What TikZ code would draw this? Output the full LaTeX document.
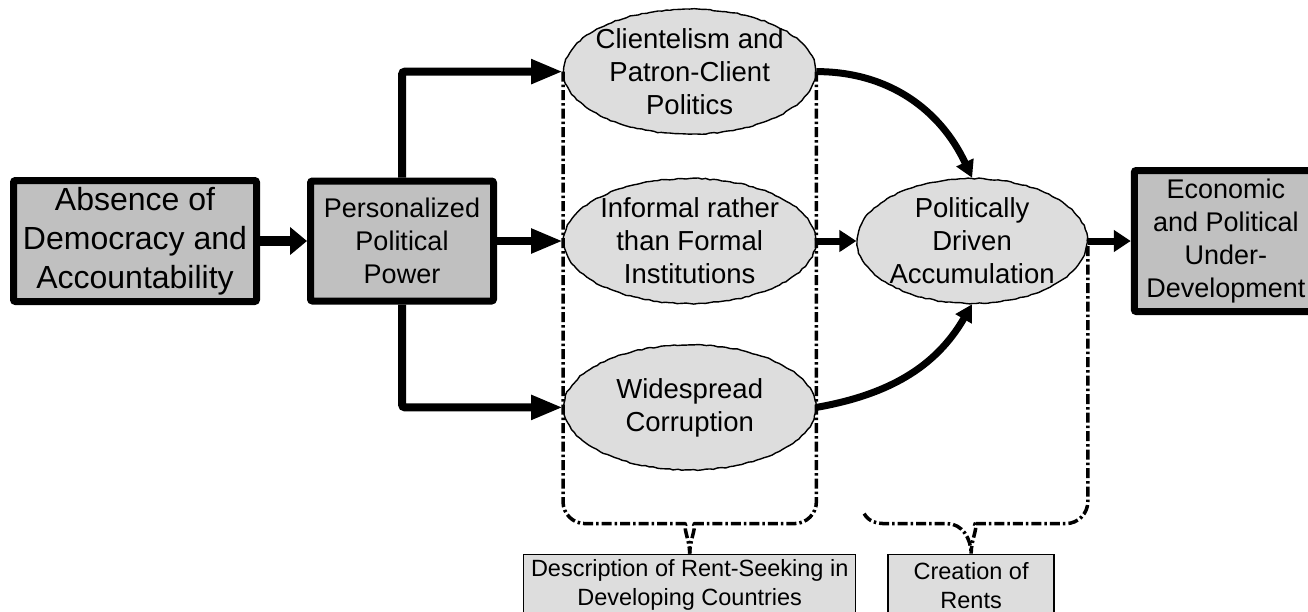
\documentclass[tikz,border=0pt]{standalone}
\usepackage{fontspec}
\setmainfont{Liberation Sans}
\usepackage{tikz}
\usetikzlibrary{shapes,arrows.meta,positioning,calc,decorations.pathmorphing}

\definecolor{boxgray}{HTML}{C0C0C0}
\definecolor{ovalgray}{HTML}{DDDDDD}

\begin{document}
\pgfmathsetseed{7}
\begin{tikzpicture}[
    x=1pt, y=-1pt,
    mainbox/.style={rectangle, draw, line width=7pt, rounded corners=2pt, fill=boxgray, align=center, inner sep=0pt, font=\fontsize{27}{33}\selectfont},
    oval/.style={ellipse, draw, line width=1.4pt, fill=ovalgray, minimum width=252pt, minimum height=125pt, inner sep=-40pt, align=center, font=\fontsize{27.5}{33}\selectfont, decorate, decoration={random steps, segment length=4pt, amplitude=0.6pt}},
    rentbox/.style={rectangle, draw, line width=1.4pt, fill=ovalgray, align=center, minimum height=62pt, font=\fontsize{23.5}{29}\selectfont},
    arrow/.style={-{Triangle[length=17pt, width=21pt]}, line width=7pt},
    bigarrow/.style={-{Triangle[length=32pt, width=23pt]}, line width=8pt, rounded corners=3pt},
    rentline/.style={line width=3.5pt, dash pattern=on 10pt off 3pt on 2.5pt off 3pt}
]
\useasboundingbox (0,0) rectangle (1308,611);

% Causes
\node[mainbox, minimum width=243pt, minimum height=121pt, font=\fontsize{32}{39}\selectfont] (absence) at (135,241) {Absence of\\Democracy and\\Accountability};
\node[mainbox, minimum width=183pt, minimum height=120pt, right=47pt of absence] (power) {Personalized\\Political\\Power};

% Rent-seeking
\node[oval, right=66pt of power] (informal) {Informal rather\\than Formal\\Institutions};
\node[oval, above=43pt of informal] (client) {Clientelism and\\Patron-Client\\Politics};
\node[oval, below=40pt of informal] (corrupt) {Widespread\\Corruption};

% Accumulation and outcome
\node[oval, minimum width=230pt, right=40pt of informal] (accum) {Politically\\Driven\\Accumulation};
\node[mainbox, minimum width=183pt, minimum height=141pt, right=43pt of accum] (underdev) {Economic\\and Political\\Under-\\Development};

% Labels
\node[rentbox, minimum width=332pt, below=83pt of corrupt] (desc_rent) {Description of Rent-Seeking in\\Developing Countries};
\node[rentbox, minimum width=166pt, right=31pt of desc_rent] (create_rent) {Creation of\\Rents};

% Arrows
\draw[arrow, line width=10pt, -{Triangle[length=17pt, width=27pt]}] (absence) -- (power);
\draw[bigarrow] (power.north) |- (client.west);
\draw[bigarrow] (power.east) -- (informal.west);
\draw[bigarrow] (power.south) |- (corrupt.west);
\draw[arrow] (informal.east) -- (accum.west);
\draw[arrow] (accum.east) -- (underdev.west);
\draw[arrow, -{Triangle[length=17pt, width=18pt]}] (client.east) to[out=0, in=115] (accum.north);
\draw[arrow, -{Triangle[length=17pt, width=18pt]}] (corrupt.east) to[out=10, in=-120] (accum.south);

% Braces
\coordinate (desc_bar) at ([yshift=30pt]desc_rent.north);
\coordinate (create_bar) at ([yshift=30pt]create_rent.north);
\coordinate (create_hook) at ([xshift=-107pt, yshift=40pt]create_rent.north);
\draw[rentline] (client.west) [rounded corners=22pt] -- (client.west |- desc_bar) -- ([xshift=-24pt]desc_bar) [sharp corners] to[out=0, in=90] (desc_rent.north);
\draw[rentline] (client.east) [rounded corners=22pt] -- (client.east |- desc_bar) -- ([xshift=24pt]desc_bar) [sharp corners] to[out=180, in=90] (desc_rent.north);
\draw[rentline] (create_hook) to[out=-60, in=180] ([xshift=-85pt]create_bar) -- ([xshift=-24pt]create_bar) to[out=0, in=90] (create_rent.north);
\draw[rentline] ([yshift=-5pt]accum.east) [rounded corners=22pt] -- (accum.east |- create_bar) -- ([xshift=24pt]create_bar) [sharp corners] to[out=180, in=90] (create_rent.north);

\end{tikzpicture}
\end{document}
